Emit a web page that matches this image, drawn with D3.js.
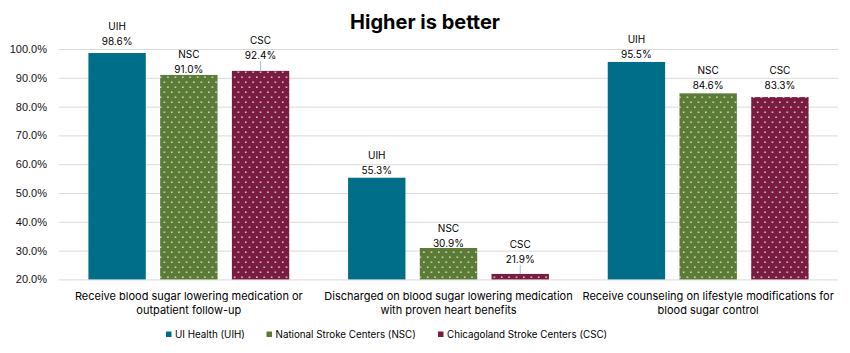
<!DOCTYPE html>
<html lang="en">
<head>
  <meta charset="UTF-8" />
  <title>Higher is better</title>
  <script src="https://cdn.jsdelivr.net/npm/d3@7"></script>
  <style>
    body, html { margin:0; padding:0; background:#fff; }
    svg { display:block; font-family: Inter, "Liberation Sans", Arial, sans-serif; }
    .tick text { font-size: 11px; fill: #111; }
    .lbl { font-size: 10px; fill: #000; text-anchor: middle; }
    .cat { font-size: 11px; fill: #000; text-anchor: middle; }
    .leg { font-size: 9.8px; fill: #000; }
  </style>
</head>
<body>
  <svg id="chart" width="850" height="353"></svg>

  <script>
    const categories = [
      ['Receive blood sugar lowering medication or', 'outpatient follow-up'],
      ['Discharged on blood sugar lowering medication', 'with proven heart benefits'],
      ['Receive counseling on lifestyle modifications for', 'blood sugar control']
    ];
    const seriesKeys  = ['UIH', 'NSC', 'CSC'];
    const seriesNames = ['UI Health (UIH)', 'National Stroke Centers (NSC)', 'Chicagoland Stroke Centers (CSC)'];
    const uih = [98.6, 55.3, 95.5];
    const nsc = [91.0, 30.9, 84.6];
    const csc = [92.4, 21.9, 83.3];
    const yTicks = [20, 30, 40, 50, 60, 70, 80, 90, 100];

    // label nudges (px above bar top for the value line), as placed in the original
    const labelLift = [
      [11.6, 5.6, 15.2],
      [7.7, 4.7, 14.6],
      [7.7, 7.7, 11.4]
    ];

    const colors = ['#006d89', '#5b7b36', '#7a1b42'];
    const values = [uih, nsc, csc];

    const svg = d3.select('#chart');
    const plotL = 59, plotR = 838, plotT = 49, plotB = 279.4;

    const y = d3.scaleLinear().domain([20, 100]).range([plotB, plotT]);
    const x0 = d3.scaleBand().domain(d3.range(categories.length)).range([plotL, plotR]).padding(0);
    const x1 = d3.scaleBand().domain(seriesKeys).range([0, x0.bandwidth()])
      .paddingInner(0.2).paddingOuter(0.41);

    // dot patterns
    const defs = svg.append('defs');
    [1, 2].forEach(i => {
      const p = defs.append('pattern')
        .attr('id', 'dots' + i)
        .attr('patternUnits', 'userSpaceOnUse')
        .attr('width', 7.4).attr('height', 10);
      p.append('rect').attr('width', 7.4).attr('height', 10).attr('fill', colors[i]);
      p.append('rect').attr('x', 1).attr('y', 1.5).attr('width', 1.4).attr('height', 1.4).attr('fill', '#eef0e6');
      p.append('rect').attr('x', 4.7).attr('y', 6.5).attr('width', 1.4).attr('height', 1.4).attr('fill', '#eef0e6');
    });
    const fills = [colors[0], 'url(#dots1)', 'url(#dots2)'];

    // title
    svg.append('text')
      .attr('x', 425).attr('y', 28.5)
      .attr('text-anchor', 'middle')
      .attr('font-size', 20).attr('font-weight', 700)
      .attr('fill', '#000')
      .text('Higher is better');

    // grid + y axis
    const yAxis = d3.axisLeft(y).tickValues(yTicks)
      .tickSize(-(plotR - plotL)).tickPadding(12)
      .tickFormat(d => d.toFixed(1) + '%');
    svg.append('g')
      .attr('transform', `translate(${plotL},0)`)
      .call(yAxis)
      .call(g => g.select('.domain').remove())
      .call(g => g.selectAll('.tick line').attr('stroke', '#d9d9d9'));

    // bars
    const groups = svg.append('g').selectAll('g')
      .data(categories)
      .join('g')
      .attr('transform', (d, i) => `translate(${x0(i)},0)`);

    groups.each(function(cat, ci) {
      const g = d3.select(this);
      seriesKeys.forEach((k, si) => {
        const v = values[si][ci];
        const bx = x1(k), bw = x1.bandwidth(), by = y(v);
        g.append('rect')
          .attr('x', bx).attr('y', by)
          .attr('width', bw).attr('height', y(20) - by)
          .attr('fill', fills[si]);
        const lift = labelLift[ci][si];
        const cx = bx + bw / 2;
        g.append('text').attr('class', 'lbl')
          .attr('x', cx).attr('y', by - lift + 3.6)
          .text(v.toFixed(1) + '%');
        g.append('text').attr('class', 'lbl')
          .attr('x', cx).attr('y', by - lift - 11.4)
          .text(k);
        if (lift > 13) {
          g.append('line')
            .attr('x1', cx).attr('x2', cx)
            .attr('y1', by - lift + 5.5).attr('y2', by)
            .attr('stroke', '#9dc3e6').attr('stroke-width', 1);
        }
      });
      g.append('text').attr('class', 'cat')
        .selectAll('tspan').data(cat).join('tspan')
        .attr('x', x0.bandwidth() / 2)
        .attr('y', (d, i) => 300 + i * 14)
        .text(d => d);
    });

    // legend
    const legX = [166, 266.5, 438];
    const leg = svg.append('g');
    seriesNames.forEach((n, i) => {
      leg.append('rect')
        .attr('x', legX[i]).attr('y', 331.5)
        .attr('width', 5.5).attr('height', 5.5)
        .attr('fill', colors[i]);
      leg.append('text').attr('class', 'leg')
        .attr('x', legX[i] + 9).attr('y', 337.8)
        .text(n);
    });
  </script>
</body>
</html>
